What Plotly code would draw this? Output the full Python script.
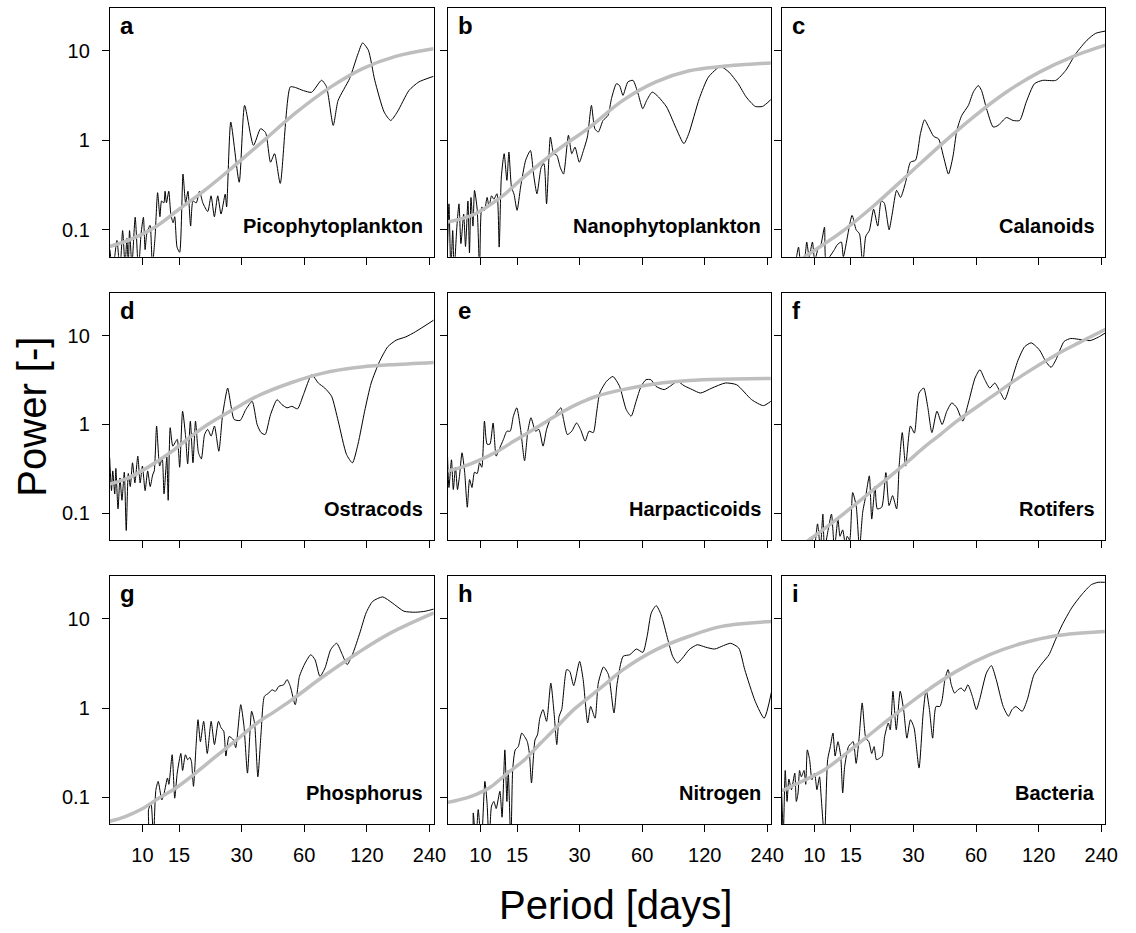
import math
import plotly.graph_objects as go

# ---------------- data (period [days], power [-]) ----------------
X_TICKS = [10, 15, 30, 60, 120, 240]
Y_TICKS = [0.1, 1, 10]
Y_TICK_TEXT = ["0.1", "1", "10"]
PANEL_LETTERS = ["a", "b", "c", "d", "e", "f", "g", "h", "i"]
PANEL_NAMES = ["Picophytoplankton", "Nanophytoplankton", "Calanoids",
               "Ostracods", "Harpacticoids", "Rotifers",
               "Phosphorus", "Nitrogen", "Bacteria"]

a_black = [(6.97,0.06),(7.2,0.035),(7.54,0.076),(7.8,0.035),(8.03,0.098),(8.25,0.04),(8.42,0.08),(8.55,0.04),
           (8.67,0.098),(8.9,0.04),(9.23,0.138),(9.57,0.035),(9.85,0.09),(10.11,0.138),(10.3,0.06),(10.49,0.09),
           (10.88,0.112),(11.16,0.04),(11.49,0.08),(11.83,0.26),(12.14,0.14),(12.36,0.21),(12.68,0.2),(12.85,0.27),
           (13.05,0.2),(13.39,0.27),(13.69,0.15),(14.04,0.12),(14.3,0.14),(14.67,0.064),(15.1,0.056),(15.67,0.42),
           (16.13,0.2),(16.56,0.27),(17.05,0.11),(17.5,0.21),(18.15,0.2),(18.82,0.27),(19.52,0.2),(20.61,0.16),
           (21.38,0.24),(22.18,0.14),(23.02,0.24),(23.88,0.15),(25.0,0.25),(25.4,0.18),(26.6,1.6),(29.2,0.34),
           (31.0,2.46),(34.2,0.88),(37.0,1.35),(39.1,1.22),(41.3,0.57),(43.2,0.71),(46.0,0.33),(51.4,3.96),
           (54.4,3.9),(59.5,3.6),(65.1,3.45),(72.7,4.7),(76.7,4.0),(82.7,1.47),(87.3,2.8),(99.1,4.9),(108.8,9.3),
           (114.5,12.3),(122,10.2),(131,4.7),(145.4,2.07),(156.3,1.67),(168,2.07),(191.4,3.62),(213.3,4.5),(251,5.2)]
a_fit = [(6.97,0.065),(8.9,0.079),(11.49,0.107),(15.1,0.172),(19.9,0.276),(26.6,0.48),(38.4,1.0),(55.3,2.08),
         (79.6,3.89),(114.5,6.35),(165,8.7),(251,10.6)]

b_black = [(6.94,0.064),(7.05,0.195),(7.2,0.035),(7.35,0.098),(7.47,0.035),(7.7,0.11),(7.88,0.195),(8.05,0.07),
           (8.3,0.15),(8.47,0.065),(8.7,0.21),(8.85,0.055),(9.0,0.23),(9.2,0.11),(9.36,0.276),(9.64,0.17),(9.9,0.035),
           (10.15,0.18),(10.45,0.165),(10.76,0.23),(11.0,0.18),(11.3,0.24),(11.6,0.22),(12.0,0.253),(12.3,0.064),
           (12.6,0.39),(13.0,0.71),(13.4,0.357),(13.7,0.74),(14.1,0.3),(14.5,0.25),(15.0,0.165),(15.6,0.3),(16.5,0.6),
           (17.4,0.77),(18.0,0.42),(18.7,0.253),(19.6,0.5),(20.2,0.55),(20.8,0.195),(21.7,1.09),(22.5,0.71),(23.3,0.68),
           (24.2,0.5),(25.1,0.42),(26.5,1.14),(27.5,0.71),(28.5,0.84),(29.9,0.57),(31.3,0.77),(32.7,1.09),(34.2,2.46),
           (35.5,1.35),(36.9,1.24),(38.9,1.67),(41.1,1.9),(42.7,2.93),(45.1,4.3),(46.7,4.1),(48.5,3.19),(51.2,4.5),
           (54.2,4.69),(57.4,3.3),(60.4,2.26),(63.1,2.8),(67.1,3.47),(71.9,3.06),(78.7,2.36),(86.9,1.41),(95.3,0.92),
           (100.6,1.19),(113,2.93),(125,5.1),(143,6.7),(157,5.8),(174,4.3),(190,3.06),(210,2.4),(228,2.4),(249.6,2.85)]
b_fit = [(6.94,0.122),(9.36,0.15),(12.5,0.23),(16.2,0.39),(23.3,0.77),(33.6,1.41),(48.5,2.8),(69.9,4.5),
         (101,6.0),(145,6.7),(249.6,7.35)]

c_black = [(7.0,0.035),(8.0,0.04),(8.4,0.064),(8.6,0.045),(9.0,0.05),(9.2,0.073),(9.45,0.05),(9.8,0.073),
           (10.05,0.045),(10.4,0.06),(10.76,0.068),(11.2,0.107),(11.4,0.045),(12.5,0.06),(12.9,0.068),(13.5,0.073),
           (13.8,0.05),(15.2,0.145),(15.9,0.1),(16.5,0.09),(17.1,0.04),(17.7,0.085),(18.4,0.098),(19.3,0.17),
           (20.2,0.11),(21.0,0.21),(21.7,0.2),(22.9,0.1),(23.7,0.15),(24.9,0.276),(26.0,0.23),(27.5,0.34),(29.0,0.57),
           (30.7,0.6),(32.4,1.19),(33.9,1.7),(35.5,1.41),(37.5,1.11),(39.6,1.04),(41.9,0.65),(44.2,0.42),(46.4,0.65),
           (48.5,1.29),(51.2,1.9),(55.1,2.46),(58.2,3.47),(61.5,4.1),(63.7,3.62),(67.4,2.26),(72.5,1.41),(76.6,1.47),
           (84,1.8),(90.4,1.67),(97.2,1.67),(104.6,2.69),(114.5,4.3),(125.5,4.69),(145,4.69),(162,6.07),(181,9.33),
           (205,13.2),(225,15.7),(251,16.7)]
c_fit = [(7.0,0.034),(9.7,0.056),(13.5,0.094),(19.4,0.187),(28.0,0.405),(40.4,0.88),(58.2,1.82),(84,3.47),
         (121,5.8),(174,8.6),(251,11.6)]

d_black = [(6.96,0.42),(7.1,0.18),(7.2,0.3),(7.36,0.165),(7.45,0.32),(7.63,0.112),(7.8,0.25),(7.97,0.14),
           (8.18,0.29),(8.36,0.064),(8.55,0.28),(8.74,0.2),(8.96,0.37),(9.2,0.22),(9.5,0.44),(9.75,0.22),(10.0,0.34),
           (10.3,0.18),(10.6,0.3),(10.9,0.2),(11.2,0.27),(11.4,0.3),(11.7,0.96),(12.1,0.34),(12.45,0.42),(12.7,0.165),
           (13.1,0.43),(13.3,0.14),(13.6,0.92),(14.0,0.57),(14.7,0.68),(15.1,0.33),(15.6,1.41),(16.1,0.77),(16.5,0.36),
           (17.0,1.09),(17.5,0.37),(18.0,1.09),(18.6,0.48),(19.2,0.41),(19.9,0.77),(20.6,0.88),(21.4,0.74),(22.2,0.96),
           (23.3,0.5),(24.3,1.29),(25.7,2.57),(26.6,1.67),(27.6,1.14),(29.5,1.11),(31.4,1.47),(33.7,1.82),(35.6,1.0),
           (37.2,0.81),(38.9,0.77),(41.3,1.29),(44.4,1.9),(46.9,1.67),(49.6,1.54),(52.3,1.6),(55.7,1.5),(59.5,2.17),
           (65.2,3.62),(70.1,2.93),(75.3,2.57),(81.2,2.08),(87.4,1.09),(95.8,0.46),(102.3,0.37),(108.8,0.6),
           (117.1,1.41),(125.9,2.93),(138,5.1),(151.3,7.5),(166,8.9),(185,9.7),(206,11.1),(252,15.0)]
d_fit = [(6.96,0.213),(8.27,0.242),(9.93,0.3),(11.9,0.39),(14.3,0.525),(17.2,0.74),(20.6,1.0),(24.7,1.29),
         (29.7,1.65),(35.6,2.08),(51.4,2.93),(74,3.79),(107,4.38),(154,4.69),(252,5.0)]

e_black = [(6.94,0.44),(7.05,0.195),(7.25,0.4),(7.4,0.185),(7.58,0.33),(7.75,0.185),(7.92,0.26),(8.15,0.48),
           (8.39,0.29),(8.64,0.117),(8.86,0.24),(9.1,0.195),(9.36,0.29),(9.64,0.28),(9.9,0.37),(10.15,0.33),
           (10.45,1.09),(10.76,0.6),(11.1,0.6),(11.5,1.04),(11.9,0.44),(12.3,0.525),(12.9,0.68),(13.4,0.84),
           (13.9,0.84),(14.4,1.24),(14.95,1.54),(15.6,0.88),(16.3,0.39),(16.9,0.84),(17.5,1.19),(18.4,0.84),
           (19.1,0.88),(20.0,0.57),(20.8,0.88),(21.7,1.14),(22.7,1.24),(23.5,1.41),(24.4,1.54),(25.1,1.14),
           (26.2,0.77),(27.5,0.84),(29.0,1.04),(30.3,0.88),(31.9,0.65),(33.3,0.84),(34.9,0.81),(36.2,1.35),
           (37.5,2.26),(40.4,3.06),(43.4,3.47),(46.7,2.69),(50.3,1.47),(53.1,1.24),(56.1,1.82),(59.3,2.69),
           (62.6,3.19),(66.1,3.19),(69.9,2.69),(76.6,2.47),(82.4,2.73),(88.6,3.06),(95.5,2.73),(104.6,2.47),
           (114.5,2.26),(130,2.57),(150.8,2.93),(171,2.8),(202,1.9),(230,1.63),(249.6,1.82)]
e_fit = [(6.94,0.3),(8.39,0.34),(10.07,0.405),(12.1,0.5),(14.5,0.65),(17.4,0.84),(20.9,1.09),(25.1,1.41),
         (30.1,1.75),(36.2,2.08),(48.5,2.47),(69.9,2.88),(101,3.13),(145,3.24),(249.6,3.3)]

f_black = [(6.99,0.03),(9.36,0.045),(9.7,0.054),(10.0,0.04),(10.37,0.076),(10.7,0.04),(11.0,0.098),(11.2,0.04),
           (11.65,0.064),(12.1,0.098),(12.5,0.04),(13.0,0.086),(13.3,0.055),(13.7,0.065),(14.1,0.045),(14.4,0.055),
           (14.8,0.05),(15.3,0.171),(15.9,0.122),(16.5,0.04),(17.1,0.103),(17.7,0.158),(18.4,0.264),(18.9,0.086),
           (19.6,0.2),(20.1,0.112),(21.1,0.117),(22.1,0.287),(22.9,0.122),(23.8,0.158),(24.9,0.112),(25.6,0.34),
           (26.5,0.81),(27.5,0.34),(29.0,0.96),(30.3,0.8),(31.9,2.26),(33.6,2.57),(35.1,1.6),(36.8,0.81),(38.9,1.41),
           (41.2,1.0),(43.4,1.41),(45.9,1.75),(48.5,1.54),(51.8,1.09),(55.1,1.75),(59.3,3.33),(62.6,4.13),(66.1,3.19),
           (69.9,2.57),(73.8,2.93),(78.1,2.36),(82.4,1.9),(87.1,2.69),(95.5,5.3),(102.7,7.5),(110.5,8.3),(121,6.9),
           (130,5.1),(137.6,4.4),(145,5.3),(159,8.6),(171,9.3),(187,9.1),(212,8.8),(232,9.6),(252,10.8)]
f_fit = [(7.0,0.03),(9.54,0.051),(11.2,0.067),(13.5,0.094),(16.2,0.133),(19.4,0.187),(23.3,0.264),(28.0,0.378),
         (33.6,0.548),(40.4,0.77),(48.5,1.09),(69.9,1.99),(101,3.62),(145,6.07),(187,8.3),(252,11.8)]

g_black = [(6.96,0.03),(10.5,0.03),(10.7,0.073),(11.0,0.085),(11.3,0.035),(11.6,0.12),(11.9,0.151),(12.4,0.094),
           (12.7,0.11),(13.2,0.165),(13.4,0.14),(13.9,0.3),(14.3,0.098),(14.7,0.187),(15.3,0.31),(15.6,0.2),
           (16.1,0.3),(16.5,0.264),(16.9,0.28),(17.2,0.253),(17.6,0.133),(18.1,0.37),(18.5,0.74),(19.0,0.42),
           (19.7,0.71),(20.5,0.31),(21.4,0.71),(22.2,0.39),(23.2,0.71),(23.9,0.6),(24.6,0.55),(25.2,0.29),(26.1,0.48),
           (27.4,0.44),(28.1,0.36),(29.7,1.09),(30.8,0.62),(32.0,0.187),(33.5,0.92),(34.6,0.68),(35.9,0.17),
           (37.2,0.525),(38.6,1.35),(40.5,1.47),(42.0,1.6),(43.6,1.54),(45.3,1.75),(47.8,1.82),(49.6,2.08),
           (51.4,1.75),(54.3,1.09),(56.9,2.26),(60.6,3.19),(64.5,3.95),(67.6,3.47),(71.4,2.26),(75.5,2.8),(80.4,4.5),
           (85.9,5.3),(91.5,3.95),(96.5,3.06),(103,4.13),(111,6.9),(119,11.6),(128,15.6),(143,17.5),(159,15.0),
           (181,12.1),(206,11.8),(229,12.1),(252,12.8)]
g_fit = [(6.96,0.054),(8.27,0.061),(9.93,0.074),(11.9,0.097),(14.3,0.125),(17.2,0.172),(20.6,0.242),(24.7,0.34),
         (29.7,0.48),(35.6,0.68),(42.8,0.9),(51.4,1.2),(74,2.25),(107,4.05),(154,6.8),(252,11.6)]

h_black = [(6.96,0.03),(9.0,0.03),(9.23,0.067),(9.5,0.03),(9.75,0.073),(10.1,0.03),(10.5,0.151),(10.76,0.085),
           (11.0,0.03),(11.3,0.08),(11.6,0.09),(11.9,0.075),(12.4,0.117),(12.7,0.06),(13.1,0.34),(13.4,0.09),
           (13.6,0.2),(14.0,0.03),(14.3,0.21),(14.7,0.34),(15.2,0.37),(15.8,0.525),(16.3,0.48),(16.8,0.42),(17.2,0.31),
           (17.6,0.145),(18.3,0.44),(18.8,0.5),(19.3,0.77),(20.0,0.96),(20.8,0.71),(21.8,1.9),(22.6,0.88),(23.3,0.39),
           (23.9,0.81),(24.6,0.96),(26.0,2.69),(26.9,2.57),(28.1,1.78),(30.0,3.33),(31.2,2.08),(32.8,0.68),(33.9,1.04),
           (35.6,0.77),(36.9,1.9),(39.1,2.88),(41.3,2.36),(43.9,0.88),(45.5,1.9),(48.6,3.79),(52.3,3.95),(56.3,4.57),
           (60.5,4.2),(63.4,6.35),(66.4,11.6),(70.1,14.0),(74.0,11.1),(79.8,5.8),(84.1,3.79),(88.6,3.19),(93.9,3.63),
           (101,4.5),(110.5,5.1),(121,4.8),(134,4.57),(148,5.0),(160,5.3),(175,4.69),(187,2.69),(210,1.19),(232,0.77),
           (252,1.54)]
h_fit = [(6.96,0.088),(8.74,0.1),(10.5,0.12),(11.3,0.133),(13.5,0.187),(16.3,0.264),(19.5,0.405),(23.4,0.62),
         (28.1,0.96),(33.7,1.35),(40.4,1.9),(48.6,2.69),(70.1,4.5),(101,6.35),(145,8.2),(252,9.3)]

i_black = [(6.97,0.112),(7.1,0.04),(7.25,0.2),(7.4,0.09),(7.55,0.16),(7.77,0.122),(8.06,0.187),(8.2,0.09),
           (8.36,0.112),(8.5,0.2),(8.67,0.17),(8.93,0.2),(9.1,0.14),(9.26,0.34),(9.5,0.264),(9.75,0.158),(10.04,0.187),
           (10.3,0.122),(10.6,0.17),(10.8,0.1),(11.2,0.035),(11.6,0.264),(11.95,0.37),(12.3,0.525),(12.6,0.29),
           (13.0,0.42),(13.4,0.29),(13.7,0.112),(14.0,0.22),(14.6,0.37),(15.0,0.4),(15.4,0.42),(15.9,0.24),(16.4,0.44),
           (17.0,1.14),(17.7,0.46),(18.3,0.42),(18.9,0.31),(19.4,0.37),(19.9,0.264),(20.4,0.27),(21.2,0.29),(21.8,0.48),
           (22.7,0.68),(23.2,0.57),(23.9,1.54),(24.8,0.57),(25.9,1.54),(26.9,0.96),(27.9,0.46),(29.0,0.74),(30.2,0.6),
           (31.9,0.213),(33.4,0.88),(34.5,1.6),(35.8,0.96),(37.1,0.46),(38.5,1.04),(40.2,1.04),(41.2,1.24),(42.5,2.08),
           (44.0,2.69),(45.6,1.82),(47.3,1.47),(49.1,1.6),(50.9,1.67),(52.8,1.54),(54.8,1.82),(57.6,1.35),(60.2,0.96),
           (62.4,1.24),(67.3,2.47),(71.1,2.98),(75.0,2.08),(81.0,1.04),(85.9,0.81),(89.3,0.96),(93.2,1.04),(100,0.92),
           (105.8,1.24),(114,2.36),(125,3.19),(134.6,3.95),(144.5,5.8),(155.6,8.5),(173,13.2),(193,18.5),(215,24),
           (232,25.5),(249.6,25.5)]
i_fit = [(6.97,0.118),(7.77,0.133),(11.2,0.204),(16.1,0.39),(23.2,0.77),(33.5,1.47),(48.2,2.57),(69.8,3.95),
         (100,5.3),(145,6.45),(249.6,7.2)]

BLACK_SERIES = [a_black, b_black, c_black, d_black, e_black, f_black, g_black, h_black, i_black]
FIT_SERIES = [a_fit, b_fit, c_fit, d_fit, e_fit, f_fit, g_fit, h_fit, i_fit]

# ---------------- layout geometry (pixels) ----------------
W, H = 1136, 933
COLS = [(111.0, 438.3), (452.7, 779.7), (790.0, 1117.3)]
ROWS = [(8.3, 256.7), (293.3, 540.0), (576.0, 824.3)]
X_RANGE = [math.log10(6.97), math.log10(251.5)]
Y_RANGE = [math.log10(0.05), math.log10(30)]
FONT = "Liberation Sans, Arial, Helvetica, sans-serif"
GREY = "#BEBEBE"

fig = go.Figure()
layout = dict(width=W, height=H, margin=dict(l=0, r=0, t=0, b=0),
              paper_bgcolor="white", plot_bgcolor="white", showlegend=False,
              font=dict(family=FONT, color="black"))
annotations = []

for k in range(9):
    r, c = divmod(k, 3)
    n = k + 1
    xa = "x" if n == 1 else f"x{n}"
    ya = "y" if n == 1 else f"y{n}"
    blk = BLACK_SERIES[k]
    fit = FIT_SERIES[k]
    fig.add_trace(go.Scatter(x=[p for p, _ in blk], y=[v for _, v in blk], mode="lines",
                             line=dict(color="black", width=1, shape="spline", smoothing=0.6),
                             xaxis=xa, yaxis=ya, hoverinfo="skip"))
    fig.add_trace(go.Scatter(x=[p for p, _ in fit], y=[v for _, v in fit], mode="lines",
                             line=dict(color=GREY, width=3.5, shape="spline", smoothing=1.0),
                             xaxis=xa, yaxis=ya, hoverinfo="skip"))
    x0, x1 = COLS[c]
    y0, y1 = ROWS[r]
    xkey = "xaxis" if n == 1 else f"xaxis{n}"
    ykey = "yaxis" if n == 1 else f"yaxis{n}"
    layout[xkey] = dict(type="log", domain=[x0 / W, x1 / W], range=X_RANGE, anchor=ya,
                        tickmode="array", tickvals=X_TICKS, ticktext=[str(t) for t in X_TICKS],
                        showticklabels=(r == 2), ticks="outside", ticklen=7, tickwidth=1,
                        tickcolor="black", showline=True, linecolor="black", linewidth=1,
                        mirror=True, showgrid=False, zeroline=False, fixedrange=True,
                        tickfont=dict(family=FONT, size=20, color="black"),
                        ticklabelstandoff=6)
    layout[ykey] = dict(type="log", domain=[1 - y1 / H, 1 - y0 / H], range=Y_RANGE, anchor=xa,
                        tickmode="array", tickvals=Y_TICKS, ticktext=Y_TICK_TEXT,
                        showticklabels=(c == 0), ticks="outside", ticklen=7, tickwidth=1,
                        tickcolor="black", showline=True, linecolor="black", linewidth=1,
                        mirror=True, showgrid=False, zeroline=False, fixedrange=True,
                        tickfont=dict(family=FONT, size=20, color="black"),
                        ticklabelstandoff=8)
    annotations.append(dict(xref="paper", yref="paper", x=(x0 + 8) / W, y=1 - (y0 + 17) / H,
                            xanchor="left", yanchor="middle", showarrow=False,
                            text=PANEL_LETTERS[k],
                            font=dict(family=FONT, size=24, color="black", weight="bold")))
    annotations.append(dict(xref="paper", yref="paper", x=(x1 - 9) / W, y=1 - (y1 - 31) / H,
                            xanchor="right", yanchor="middle", showarrow=False,
                            text=PANEL_NAMES[k],
                            font=dict(family=FONT, size=20, color="black", weight="bold")))

annotations.append(dict(xref="paper", yref="paper", x=622 / W, y=1 - 905 / H,
                        xanchor="center", yanchor="middle", showarrow=False,
                        text="Period [days]", font=dict(family=FONT, size=40, color="black")))
annotations.append(dict(xref="paper", yref="paper", x=32 / W, y=1 - 417 / H,
                        xanchor="center", yanchor="middle", showarrow=False, textangle=-90,
                        text="Power [-]", font=dict(family=FONT, size=40, color="black")))
layout["annotations"] = annotations
fig.update_layout(**layout)
fig.write_html("out.html", config={"displayModeBar": False, "staticPlot": True},
               post_script="document.body.style.margin='0px';document.body.style.overflow='hidden';")
